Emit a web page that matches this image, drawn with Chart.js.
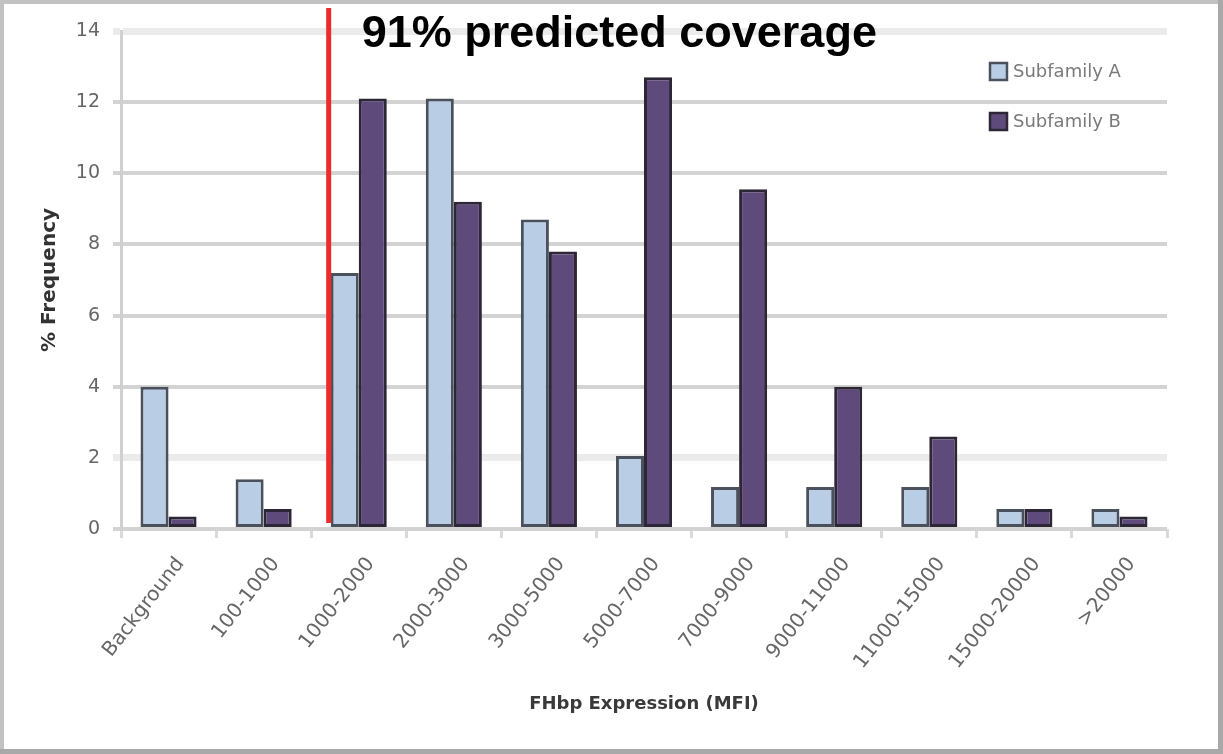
<!DOCTYPE html>
<html>
<head>
<meta charset="utf-8">
<script src="https://cdn.jsdelivr.net/npm/chart.js@4.4.0/dist/chart.umd.min.js"></script>
<style>
  html, body { margin: 0; padding: 0; background: #fff; }
  #wrap { width: 1223px; height: 754px; position: relative; }
</style>
</head>
<body>
<div id="wrap"><canvas id="c" width="1223" height="754"></canvas></div>
<script>
// FHbp expression distribution per MFI bin (% of isolates)
const categories = ['Background', '100-1000', '1000-2000', '2000-3000', '3000-5000', '5000-7000',
                    '7000-9000', '9000-11000', '11000-15000', '15000-20000', '>20000'];
const subfamilyA = [4.0, 1.4, 7.2, 12.1, 8.7, 2.05, 1.18, 1.18, 1.18, 0.56, 0.56];
const subfamilyB = [0.35, 0.56, 12.1, 9.2, 7.8, 12.7, 9.55, 4.0, 2.6, 0.56, 0.35];
const seriesNames = ['Subfamily A', 'Subfamily B'];
const yTicks = [0, 2, 4, 6, 8, 10, 12, 14];
const coverageText = '91% predicted coverage';
const coverageFromIndex = 2; // threshold bin: 1000-2000 MFI

const colorA = '#b9cde5', borderA = '#4a505c';
const colorB = '#5f4b7b', borderB = '#2c2636';

// thin grey frame round the whole figure
const framePlugin = {
  id: 'frame',
  afterDraw(chart) {
    const ctx = chart.ctx, W = chart.width, H = chart.height;
    ctx.save();
    ctx.fillStyle = '#c2c2c2';
    ctx.fillRect(0, 0, W, 4);
    ctx.fillRect(0, 0, 4, H);
    ctx.fillStyle = '#a9a9a9';
    ctx.fillRect(W - 5, 0, 5, H);
    ctx.fillRect(0, H - 5, W, 5);
    ctx.restore();
  }
};

// red threshold line before the coverage bin, with its caption
const coveragePlugin = {
  id: 'coverage',
  afterDatasetsDraw(chart) {
    const bar = chart.getDatasetMeta(0).data[coverageFromIndex];
    const { x, width } = bar.getProps(['x', 'width'], true);
    const lx = x - width / 2 - 2;
    const yBase = chart.scales.y.getPixelForValue(0);
    const ctx = chart.ctx;
    ctx.save();
    ctx.strokeStyle = '#ee2b2b';
    ctx.lineWidth = 5;
    ctx.beginPath();
    ctx.moveTo(lx, chart.chartArea.top - 23);
    ctx.lineTo(lx, yBase - 6);
    ctx.stroke();
    ctx.fillStyle = '#000';
    ctx.font = 'bold 45px "Liberation Sans", Arial, sans-serif';
    ctx.textBaseline = 'alphabetic';
    ctx.textAlign = 'left';
    ctx.fillText(coverageText, lx + 33, 47);
    ctx.restore();
  }
};

// vertical legend in the upper right of the plot
const legendPlugin = {
  id: 'sideLegend',
  afterDraw(chart) {
    const ctx = chart.ctx;
    const ca = chart.chartArea;
    ctx.save();
    ctx.font = '18px "DejaVu Sans", sans-serif';
    ctx.textBaseline = 'middle';
    ctx.textAlign = 'left';
    chart.data.datasets.forEach((ds, i) => {
      const bx = ca.right - 177, cy = ca.top + 40 + i * 50;
      ctx.fillStyle = ds.backgroundColor;
      ctx.fillRect(bx, cy - 8, 17, 17);
      ctx.strokeStyle = ds.borderColor;
      ctx.lineWidth = 2.5;
      ctx.strokeRect(bx, cy - 8, 17, 17);
      ctx.fillStyle = '#7a7a7a';
      ctx.fillText(ds.label, bx + 23, cy + 1);
    });
    ctx.restore();
  }
};

const isLightLine = v => v === 14 || v === 2;

new Chart(document.getElementById('c'), {
  type: 'bar',
  data: {
    labels: categories,
    datasets: [
      { label: seriesNames[0], data: subfamilyA, backgroundColor: colorA, borderColor: borderA,
        borderWidth: 3, borderSkipped: false },
      { label: seriesNames[1], data: subfamilyB, backgroundColor: colorB, borderColor: borderB,
        borderWidth: 3, borderSkipped: false }
    ]
  },
  options: {
    responsive: false,
    animation: false,
    devicePixelRatio: 1,
    layout: { padding: { top: 31, right: 56, left: 0, bottom: 0 } },
    plugins: { legend: { display: false }, tooltip: { enabled: false }, title: { display: false } },
    datasets: { bar: { categoryPercentage: 0.59, barPercentage: 1.0 } },
    scales: {
      x: {
        grid: { offset: true, drawOnChartArea: false, drawTicks: true, tickLength: 9,
                color: '#dadada', lineWidth: 3 },
        border: { display: false },
        ticks: { autoSkip: false, maxRotation: 52, minRotation: 52, padding: 15, labelOffset: 12,
                 color: '#666', font: { family: 'DejaVu Sans', size: 20 } },
        title: { display: true, text: 'FHbp Expression (MFI)', color: '#3a3a3a',
                 font: { family: 'DejaVu Sans', size: 18, weight: 'bold' },
                 padding: { top: 0, bottom: 39 } },
        afterFit(scale) { scale.height = 225; }
      },
      y: {
        min: 0, max: 14,
        afterBuildTicks(scale) { scale.ticks = yTicks.map(v => ({ value: v })); },
        grid: {
          tickLength: 8,
          color: c => (c.tick && isLightLine(c.tick.value)) ? '#ebebeb' : '#d3d3d3',
          lineWidth: c => (c.tick && isLightLine(c.tick.value)) ? 7 : 4
        },
        border: { display: true, color: '#d0d0d0', width: 3 },
        ticks: { padding: 13, color: '#666', font: { family: 'DejaVu Sans', size: 19 } },
        title: { display: true, text: '% Frequency', color: '#333',
                 font: { family: 'DejaVu Sans', size: 20, weight: 'bold' },
                 padding: { top: 38, bottom: 0 } },
        afterFit(scale) { scale.width = 121; }
      }
    }
  },
  plugins: [coveragePlugin, legendPlugin, framePlugin]
});
</script>
</body>
</html>
